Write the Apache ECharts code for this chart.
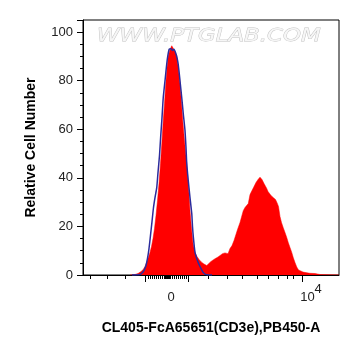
<!DOCTYPE html>
<html><head><meta charset="utf-8">
<script src="https://cdn.jsdelivr.net/npm/echarts@6/dist/echarts.min.js"></script>
<style>html,body{margin:0;padding:0;background:#fff}#c{width:361px;height:356px}</style>
</head><body><div id="c"></div>
<script>
// Stained sample histogram (display channel 0-1024, relative cell number)
const sampleChannel = [188,208,220,232,241,248,256,264,268,274,280,286,292,298,304,310,316,321,326,331,336,341,348,355,360,366,375,381,388,394,399,406,415,420,424,428,434,440,448,456,464,474,484,495,501,512,528,540,548,558,568,574,580,588,596,604,618,628,641,648,656,661,668,676,682,692,700,708,716,724,735,740,748,756,764,770,776,782,788,794,801,808,815,821,828,835,841,848,855,862,868,880,896,908,928,948,988,1024];
const sampleCounts  = [0,0.2,0.6,1.4,2.3,3.5,5.6,8.0,9.3,11.7,15.0,19.1,24.5,30.7,37.7,45.9,55.3,63.6,70.6,78.8,85.4,90.3,92.8,94.4,93.6,92.4,90.3,85.4,78.8,70.6,63.6,55.3,45.9,38.9,33.5,26.5,19.1,13.0,9.3,7.6,6.4,5.3,4.5,3.9,4.5,5.6,6.7,7.4,8.0,8.8,9.1,8.4,8.8,10.9,12.1,14.2,18.7,21.6,26.5,27.8,28.6,29.4,33.1,34.8,36.0,38.1,39.3,40.3,39.3,37.7,35.6,34.4,33.3,32.3,31.9,31.1,29.8,28.2,24.1,21.6,19.5,17.5,15.4,13.4,11.3,9.3,7.2,5.1,3.3,2.1,1.6,1.2,0.9,0.7,0.6,0.2,0.1,0.1];
// Control (unstained) histogram
const controlChannel = [196,228,236,244,252,258,264,270,276,282,288,295,300,306,311,316,321,328,335,340,345,352,358,364,370,376,381,388,395,401,408,412,415,421,428,435,438,441,448,455,461,468,475,481,488,496,516];
const controlCounts  = [0,0.2,0.8,1.9,3.9,6.8,10.9,16.3,22.0,27.8,31.9,36.0,42.2,49.2,57.4,64.8,73.0,80.0,87.0,90.7,93.0,93.2,92.4,93.0,91.6,89.5,86.6,80.0,73.0,66.5,59.5,52.5,45.9,38.9,31.9,25.3,20.0,16.0,9.3,6.8,5.1,3.5,2.1,1.0,0.4,0.1,0];
// Axis ticks
const xMajorTicks = [248,421,876];
const xMinorTicks = [28,96,168,260,268,276,284,292,300,308,316,324,328,332,336,340,344,348,356,364,372,380,388,396,404,412,500,576,636,696,740,780,816,840];
const xLabelValues = [352,876];
const xLabelTexts = ['{z|0}','{b|10}{s|4}'];
const yTickLabels = [0,20,40,60,80,100];

const chart = echarts.init(document.getElementById('c'), null, {renderer:'canvas'});
const font = 'Liberation Sans';
const lbl = {fontSize:13, fontFamily:font, color:'#222'};
chart.setOption({
  animation:false,
  backgroundColor:'#fff',
  grid:{left:83, top:20, width:256, height:255, show:true, borderColor:'#000', borderWidth:1},
  graphic:[{
    type:'text', x:97, y:36, scaleX:1.27, silent:true, z:100,
    style:{text:'WWW.PTGLAB.COM', font:'italic 18px "DejaVu Sans"', fill:'#f6f6f6', stroke:'#c2c2c2', lineWidth:0.8, textAlign:'left', textVerticalAlign:'middle'}
  }],
  xAxis:[{
    type:'value', min:0, max:1024,
    axisLine:{show:true, lineStyle:{color:'#000', width:1}},
    axisTick:{show:true, customValues:xMinorTicks, length:4, lineStyle:{color:'#000', width:1}},
    axisLabel:{show:true, customValues:xLabelValues, margin:8,
      formatter:function(v){const i = xLabelValues.indexOf(v); return i>=0 ? xLabelTexts[i] : '';},
      rich:{
        z:Object.assign({}, lbl, {padding:[8,0,0,0], verticalAlign:'bottom'}),
        b:Object.assign({}, lbl, {padding:[8,0,0,18], verticalAlign:'bottom'}),
        s:Object.assign({}, lbl, {verticalAlign:'top'})
      }},
    splitLine:{show:false},
    name:'CL405-FcA65651(CD3e),PB450-A', nameLocation:'middle', nameGap:46,
    nameTextStyle:{fontSize:14, fontWeight:'bold', fontFamily:font, color:'#000'}
  },{
    type:'value', min:0, max:1024, position:'bottom',
    axisLine:{show:false},
    axisTick:{show:true, customValues:xMajorTicks, length:7, lineStyle:{color:'#000', width:1}},
    axisLabel:{show:false}, splitLine:{show:false}
  }],
  yAxis:{
    type:'value', min:0, max:105, interval:20,
    axisLine:{show:true, lineStyle:{color:'#000', width:1}},
    axisTick:{show:true, length:6, lineStyle:{color:'#000'}},
    minorTick:{show:true, splitNumber:4, length:3, lineStyle:{color:'#000'}},
    axisLabel:Object.assign({}, lbl, {margin:10, formatter:function(v){return yTickLabels.indexOf(v)>=0 ? String(v) : '';}}),
    splitLine:{show:false},
    name:'Relative Cell Number', nameLocation:'middle', nameGap:45,
    nameTextStyle:{fontSize:14, fontWeight:'bold', fontFamily:font, color:'#000'}
  },
  series:[{
    type:'line', xAxisIndex:0, showSymbol:false, silent:true,
    data:sampleChannel.map((c,i)=>[c, sampleCounts[i]]),
    lineStyle:{color:'#ff0000', width:0.5},
    areaStyle:{color:'#ff0000', opacity:1}
  },{
    type:'line', xAxisIndex:0, showSymbol:false, silent:true, smooth:0.2,
    data:controlChannel.map((c,i)=>[c, controlCounts[i]]),
    lineStyle:{color:'#2b2b9c', width:1.5}
  }]
});
</script></body></html>
